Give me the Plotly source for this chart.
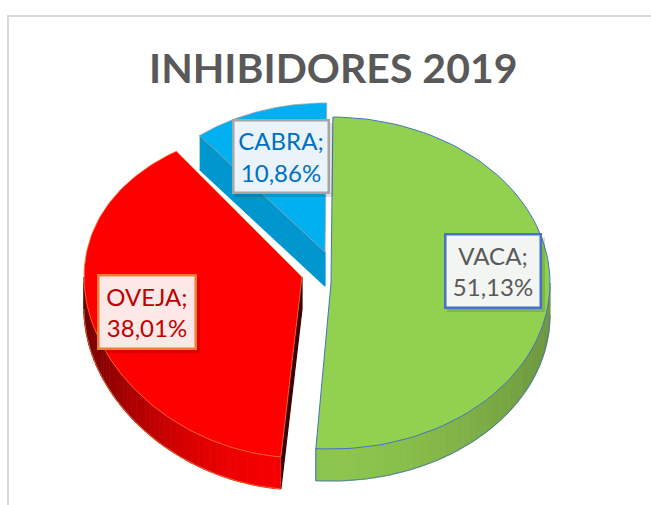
import math
import plotly.graph_objects as go

# ---- data ----
categories = ["VACA", "OVEJA", "CABRA"]
shares = [51.13, 38.01, 10.86]
title_text = "INHIBIDORES 2019"

# ---- styling: one entry per slice, same order as the data ----
START_DEG = 0.5
CENTERS = [(331, 283), (302, 277), (325, 252)]
RADII = [(219, 166), (218, 165), (201, 149)]
PERSP = [0.0, 0.088, 0.0]
DEPTH = [32, 32, 34]
# angular correction of each slice's two cuts: the reference's 3D view skews them
VIEW_SKEW = [(0.0, -0.6), (1.0, 3.4), (0.0, 0.0)]
TOP_FILL = ["#92D050", "#FF0000", "#00B0F0"]
EDGE = ["#4472C4", "#ED7D31", "#A5A5A5"]
RIM_DARK = [(0x6F, 0x98, 0x3E), (0x6E, 0x00, 0x00), (0x00, 0x97, 0xCF)]
RIM_LIGHT = [(0x8D, 0xC6, 0x4E), (0xF5, 0x00, 0x00), (0x00, 0x97, 0xCF)]
FACE = [None, "#3A0000", "#0097CF"]
BOX = [(492.5, 270.5, 97, 75), (146.5, 311.5, 99, 75), (280.5, 156, 97, 74)]
BOX_FILL = ["#F2F5F2", "#FDE8E8", "#EAF3FA"]
BOX_LINE = ["#4472C4", "#ED7D31", "#A5A5A5"]
TEXT_COL = ["#595959", "#C00000", "#0070C0"]


def point(i, deg, dy=0.0):
    cx, cy = CENTERS[i]
    rx, ry = RADII[i]
    a = math.radians(deg)
    c = math.cos(a)
    return cx + rx * math.sin(a), cy - ry * c / (1 + PERSP[i] * c) + dy


def arc(i, a0, a1, dy=0.0, n=90):
    pts = [point(i, a0 + (a1 - a0) * k / n, dy) for k in range(n + 1)]
    return [p[0] for p in pts], [p[1] for p in pts]


total = sum(shares)
spans = []
angle = START_DEG
for i, v in enumerate(shares):
    spans.append((angle + VIEW_SKEW[i][0], angle + v / total * 360 + VIEW_SKEW[i][1]))
    angle += v / total * 360

fig = go.Figure()


def poly(xs, ys, fill, line=None, width=0.0, name=None):
    fig.add_trace(go.Scatter(
        x=xs, y=ys, mode="lines", fill="toself", fillcolor=fill,
        line=dict(color=line or fill, width=width if line else 1.2),
        hoverinfo="skip", showlegend=False, name=name))


def stroke(xs, ys, color, width):
    fig.add_trace(go.Scatter(x=xs, y=ys, mode="lines", line=dict(color=color, width=width),
                             hoverinfo="skip", showlegend=False))


for i in [2, 1, 0]:
    a0, a1 = spans[i]
    cx, cy = CENTERS[i]
    d = DEPTH[i]
    # flat wall along the radial cut that faces the viewer
    if FACE[i]:
        ex, ey = point(i, a0)
        poly([ex, cx, cx, ex], [ey, cy, cy + d, ey + d], FACE[i])
    # curved rim split in strips for the gradient (goat's rim is hidden behind)
    if i != 2:
        lo, hi = max(a0, 90), min(a1, 270)
        strips = 48
        for k in range(strips):
            s0 = lo + (hi - lo) * k / strips
            s1 = lo + (hi - lo) * (k + 1) / strips
            mid = (s0 + s1) / 2
            t = abs(math.sin(math.radians(mid - 184))) ** 2
            col = [int(RIM_LIGHT[i][c] + (RIM_DARK[i][c] - RIM_LIGHT[i][c]) * t) for c in range(3)]
            xa, ya = arc(i, s0, s1, 0, 4)
            xb, yb = arc(i, s1, s0, d, 4)
            poly(xa + xb, ya + yb, "rgb(%d,%d,%d)" % tuple(col))
        xb, yb = arc(i, lo, hi, d)
        stroke(xb, yb, EDGE[i], 0.8)
        if i == 0:
            ex, ey = point(i, a1)
            stroke([ex, ex], [ey, ey + d], EDGE[i], 1)
    # top surface
    xa, ya = arc(i, a0, a1)
    poly([cx] + xa + [cx], [cy] + ya + [cy], TOP_FILL[i], EDGE[i], 1 if i == 0 else 0.8,
         name=categories[i])

annotations = []
shapes = [dict(type="rect", xref="x", yref="y", x0=8, y0=16, x1=700, y1=560,
               line=dict(color="#D9D9D9", width=2), fillcolor="rgba(0,0,0,0)", layer="below")]
for i, cat in enumerate(categories):
    bx, by, bw, bh = BOX[i]
    shapes.append(dict(type="rect", xref="x", yref="y", x0=bx - bw / 2 + 3, y0=by - bh / 2 + 4,
                       x1=bx + bw / 2 + 4, y1=by + bh / 2 + 4,
                       fillcolor="rgba(0,0,0,0.12)", line=dict(width=0), layer="above"))
    label = f"{cat};<br>{shares[i]:.2f}%".replace(".", ",")
    annotations.append(dict(
        x=bx, y=by, xref="x", yref="y", text=label, showarrow=False,
        width=bw - 4, height=bh - 4, align="center", valign="middle",
        font=dict(family="Lato, Carlito, sans-serif", size=24, color=TEXT_COL[i]),
        bgcolor=BOX_FILL[i], bordercolor=BOX_LINE[i], borderwidth=2.5, borderpad=0))

annotations.append(dict(
    x=332.5, y=67, xref="x", yref="y", text=f"<b>{title_text}</b>", showarrow=False,
    font=dict(family="Lato, Carlito, sans-serif", size=41, color="#595959")))

fig.update_layout(
    width=651, height=505, margin=dict(l=0, r=0, t=0, b=0),
    paper_bgcolor="white", plot_bgcolor="white", showlegend=False,
    xaxis=dict(range=[0, 651], visible=False, fixedrange=True),
    yaxis=dict(range=[505, 0], visible=False, fixedrange=True),
    shapes=shapes, annotations=annotations)
fig.write_html("out.html", config=dict(displayModeBar=False),
               post_script="document.body.style.margin='0';document.body.style.overflow='hidden';")
